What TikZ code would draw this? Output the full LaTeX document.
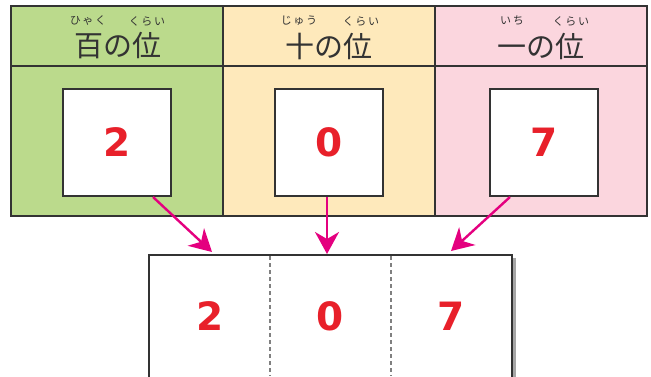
\documentclass[tikz,border=0pt]{standalone}
\usepackage{fontspec}
\usetikzlibrary{arrows.meta}
\newfontfamily\jpfont{Noto Sans CJK JP}
\newfontfamily\rubyfont[LetterSpace=15]{Noto Sans CJK JP}
\newfontfamily\digitfont{DejaVu Sans}
\definecolor{cgreen}{HTML}{BBDA8C}
\definecolor{cyellow}{HTML}{FEE9BB}
\definecolor{cpink}{HTML}{FBD6DE}
\definecolor{cred}{HTML}{E8202A}
\definecolor{cmag}{HTML}{E4007F}
\definecolor{cline}{HTML}{333333}
\tikzset{
  digitbox/.style={draw=cline, fill=white, line width=1.3pt, minimum width=108pt, minimum height=107pt, inner sep=0pt},
  digit/.style={text=cred, font=\digitfont\bfseries\fontsize{39}{39}\selectfont},
  head/.style={font=\jpfont\fontsize{29}{29}\selectfont, text=cline},
  ruby/.style={font=\rubyfont\fontsize{11}{11}\selectfont, text=cline},
  arr/.style={draw=cmag, line width=2.4pt, -{Stealth[length=22pt,width=24pt,inset=7pt]}}
}
\begin{document}
\begin{tikzpicture}[x=1pt,y=-1pt]
\useasboundingbox (0,0) rectangle (651,376);
% columns
\fill[cgreen] (11,6) rectangle (223,216);
\fill[cyellow] (223,6) rectangle (435,216);
\fill[cpink] (435,6) rectangle (647,216);
\draw[cline, line width=1.8pt] (11,6) rectangle (647,216);
\draw[cline, line width=1.8pt] (11,66) -- (647,66);
\draw[cline, line width=1.8pt] (223,6) -- (223,216);
\draw[cline, line width=1.8pt] (435,6) -- (435,216);
% headers
\node[head] (h1) at (118,46) {百の位};
\node[head] (h2) at (329,46) {十の位};
\node[head] (h3) at (541,46) {一の位};
\node[ruby] (r1a) at (88,21) {ひゃく};
\node[ruby] (r1b) at (147,21) {くらい};
\node[ruby] (r2a) at (299,21) {じゅう};
\node[ruby] (r2b) at (361,21) {くらい};
\node[ruby] (r3a) at (512,21) {いち};
\node[ruby] (r3b) at (571,21) {くらい};
% digit boxes
\node[digitbox] (b1) at (117,142.5) {};
\node[digitbox] (b2) at (329,142.5) {};
\node[digitbox] (b3) at (544,142.5) {};
\node[digit] (d1) at (b1) {2};
\node[digit] (d2) at (b2) {0};
\node[digit] (d3) at (b3) {7};
% bottom box
\fill[gray!70] (512,258) rectangle (516,380);
\fill[white] (149,255) rectangle (512,380);
\draw[cline, line width=1.3pt] (149,380) -- (149,255) -- (512,255) -- (512,380);
\draw[gray, line width=1.1pt, dash pattern=on 4pt off 3pt] (270,256) -- (270,376);
\draw[gray, line width=1.1pt, dash pattern=on 4pt off 3pt] (391,256) -- (391,376);
\node[digit] (e1) at (210,316) {2};
\node[digit] (e2) at (330,316) {0};
\node[digit] (e3) at (451,316) {7};
% arrows
\coordinate (s1) at (153,197);
\coordinate (s2) at (327,197);
\coordinate (s3) at (510,197);
\coordinate (t1) at (212,252);
\coordinate (t2) at (327,254);
\coordinate (t3) at (451,251);
\draw[arr] (s1) -- (t1);
\draw[arr] (s2) -- (t2);
\draw[arr] (s3) -- (t3);
\end{tikzpicture}
\end{document}
